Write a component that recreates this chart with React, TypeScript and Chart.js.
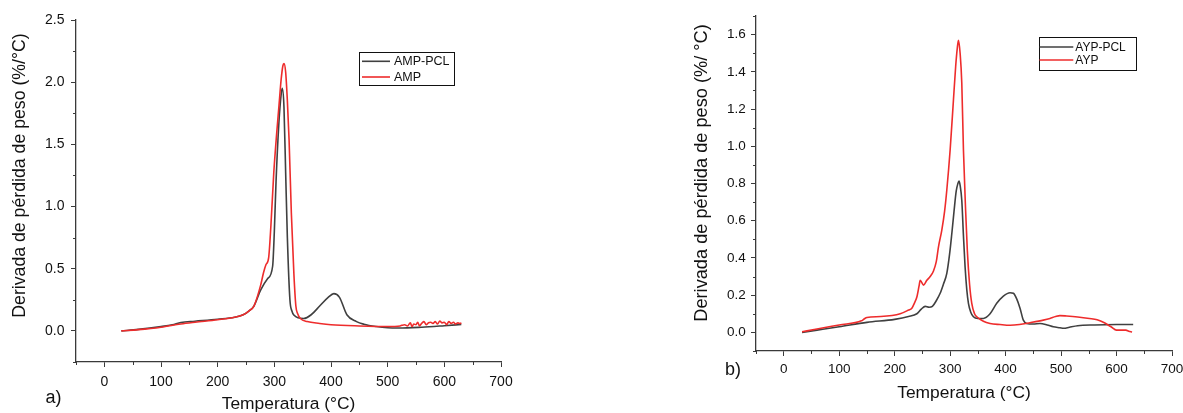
import React, { useEffect, useRef } from "react";
import { Chart, registerables } from "chart.js";

Chart.register(...registerables);

const FONT = "'Liberation Sans', Arial, Helvetica, sans-serif";
const GREY = "#404040";
const RED = "#ee2c2c";
const AXIS = "#3a3a3a";

// ---------- shared axis ticks ----------
const xTicks = [0, 100, 200, 300, 400, 500, 600, 700];
const xMinor = [-50, 50, 150, 250, 350, 450, 550, 650];

// ---------- panel a) ----------
const yTicksA = [0, 0.5, 1.0, 1.5, 2.0, 2.5];
const yMinorA = [-0.25, 0.25, 0.75, 1.25, 1.75, 2.25];

const ampPclT = [30, 60, 100, 120, 135, 160, 200, 230, 245, 255, 264, 276, 288, 297, 300, 303, 308, 312, 314, 317, 320, 323, 327.5, 331, 335, 342, 352, 365, 380, 395, 405, 415, 428, 445, 458, 480, 500, 520, 560, 600, 630];
const ampPclV = [0, 0.012, 0.035, 0.05, 0.068, 0.078, 0.094, 0.11, 0.13, 0.16, 0.2, 0.33, 0.42, 0.52, 0.8, 1.2, 1.67, 1.9, 1.95, 1.8, 1.27, 0.75, 0.25, 0.16, 0.125, 0.105, 0.1, 0.13, 0.2, 0.27, 0.3, 0.27, 0.13, 0.075, 0.054, 0.035, 0.025, 0.023, 0.03, 0.042, 0.052];

const ampT = [30, 60, 100, 135, 160, 200, 230, 245, 255, 264, 276, 281, 285, 290, 294, 299, 304, 308, 312, 315, 317, 320, 323, 326, 330, 334.5, 338, 341, 346, 358, 380, 400, 450, 500, 522, 525, 530, 535, 540, 543, 546, 550, 553, 556, 560, 564, 568, 572, 576, 580, 584, 588, 592, 596, 600, 604, 608, 612, 616, 620, 624, 628, 630];
const ampV = [0, 0.01, 0.03, 0.056, 0.07, 0.09, 0.11, 0.13, 0.16, 0.2, 0.37, 0.47, 0.53, 0.59, 0.85, 1.27, 1.58, 1.8, 2.02, 2.13, 2.15, 2.08, 1.85, 1.54, 0.95, 0.46, 0.2, 0.14, 0.1, 0.075, 0.06, 0.05, 0.04, 0.035, 0.04, 0.045, 0.05, 0.04, 0.065, 0.035, 0.055, 0.05, 0.07, 0.04, 0.06, 0.075, 0.05, 0.065, 0.07, 0.06, 0.075, 0.055, 0.08, 0.065, 0.07, 0.05, 0.075, 0.06, 0.07, 0.055, 0.065, 0.06, 0.065];

// ---------- panel b) ----------
const yTicksB = [0, 0.2, 0.4, 0.6, 0.8, 1.0, 1.2, 1.4, 1.6];
const yMinorB = [-0.1, 0.1, 0.3, 0.5, 0.7, 0.9, 1.1, 1.3, 1.5, 1.7];

const aypPclT = [33, 60, 100, 150, 200, 225, 240, 248, 255, 262, 268, 275, 282, 288, 294, 299, 303, 307, 311, 314, 316, 318, 321, 324, 327, 330, 333, 337, 342, 350, 360, 372, 384, 396, 408, 414, 420, 426, 432, 438, 450, 462, 475, 486, 498, 505, 515, 530, 560, 600, 630];
const aypPclV = [0, 0.012, 0.03, 0.054, 0.07, 0.085, 0.1, 0.125, 0.14, 0.135, 0.14, 0.17, 0.21, 0.26, 0.317, 0.42, 0.53, 0.65, 0.76, 0.8, 0.813, 0.79, 0.71, 0.52, 0.35, 0.23, 0.156, 0.11, 0.084, 0.075, 0.075, 0.1, 0.156, 0.195, 0.213, 0.21, 0.18, 0.13, 0.066, 0.048, 0.045, 0.048, 0.04, 0.03, 0.025, 0.022, 0.028, 0.036, 0.04, 0.042, 0.042];

const aypT = [33, 60, 100, 140, 145, 150, 175, 210, 225, 231, 236, 240, 244, 246, 248.5, 252, 258, 264, 270, 275, 279, 285, 290, 294, 300, 306, 310, 313, 315, 318, 321, 324, 328, 331, 335, 339, 344, 348, 360, 372, 390, 408, 425, 444, 468, 480, 490, 498, 510, 530, 551, 565, 579, 590, 600, 610, 617, 622, 628];
const aypV = [0.003, 0.018, 0.04, 0.062, 0.072, 0.08, 0.085, 0.1, 0.12, 0.13, 0.16, 0.19, 0.25, 0.28, 0.27, 0.254, 0.28, 0.3, 0.33, 0.38, 0.46, 0.55, 0.65, 0.765, 0.98, 1.25, 1.43, 1.53, 1.57, 1.5, 1.34, 0.98, 0.65, 0.44, 0.26, 0.156, 0.1, 0.084, 0.06, 0.048, 0.042, 0.038, 0.042, 0.052, 0.066, 0.075, 0.085, 0.09, 0.088, 0.083, 0.075, 0.068, 0.05, 0.03, 0.012, 0.012, 0.012, 0.006, 0.002];

const toPoints = (t: number[], v: number[]) => t.map((x, i) => ({ x, y: v[i] }));

type PanelCfg = {
  series: { label: string; color: string; t: number[]; v: number[] }[];
  yTicks: number[];
  yMinor: number[];
  yMin: number;
  yMax: number;
  yTitle: string;
  yTitleSize: number;
  yTitlePos: [number, number];
  xTitlePad: number;
  xAxisHeight: number;
  padTop: number;
  padRight: number;
  tickSize: number;
  xTickPad: number;
  yTickPad: number;
  legend: { box: [number, number, number, number]; rows: number[]; lineX: [number, number]; textX: number; size: number };
  panelLabel: { text: string; x: number; y: number };
};

const decorPlugin = {
  id: "decor",
  afterDraw(chart: any, _args: any, opts: any) {
    const { ctx, chartArea } = chart;
    const xs = chart.scales.x;
    const ys = chart.scales.y;
    ctx.save();
    // minor ticks
    ctx.strokeStyle = AXIS;
    ctx.lineWidth = 1;
    for (const v of opts.xMinor) {
      const px = Math.round(xs.getPixelForValue(v)) + 0.5;
      ctx.beginPath();
      ctx.moveTo(px, chartArea.bottom);
      ctx.lineTo(px, chartArea.bottom + 3);
      ctx.stroke();
    }
    for (const v of opts.yMinor) {
      const py = Math.round(ys.getPixelForValue(v)) + 0.5;
      ctx.beginPath();
      ctx.moveTo(chartArea.left, py);
      ctx.lineTo(chartArea.left - 3, py);
      ctx.stroke();
    }
    // y title
    ctx.fillStyle = "#111";
    ctx.font = `${opts.yTitleSize}px ${FONT}`;
    ctx.textAlign = "center";
    ctx.textBaseline = "middle";
    ctx.translate(opts.yTitlePos[0], opts.yTitlePos[1]);
    ctx.rotate(-Math.PI / 2);
    ctx.fillText(opts.yTitle, 0, 0);
    ctx.setTransform(1, 0, 0, 1, 0, 0);
    // panel label
    ctx.textAlign = "left";
    ctx.textBaseline = "alphabetic";
    ctx.font = `18px ${FONT}`;
    ctx.fillText(opts.panelLabel.text, opts.panelLabel.x, opts.panelLabel.y);
    // legend
    const lg = opts.legend;
    const [bx1, by1, bx2, by2] = lg.box;
    ctx.fillStyle = "#fff";
    ctx.fillRect(bx1, by1, bx2 - bx1, by2 - by1);
    ctx.strokeStyle = "#111";
    ctx.lineWidth = 1;
    ctx.strokeRect(Math.round(bx1) + 0.5, Math.round(by1) + 0.5, Math.round(bx2 - bx1), Math.round(by2 - by1));
    chart.data.datasets.forEach((ds: any, i: number) => {
      const y = lg.rows[i];
      ctx.strokeStyle = ds.borderColor;
      ctx.lineWidth = 1.6;
      ctx.beginPath();
      ctx.moveTo(lg.lineX[0], y);
      ctx.lineTo(lg.lineX[1], y);
      ctx.stroke();
      ctx.fillStyle = "#111";
      ctx.font = `${lg.size}px ${FONT}`;
      ctx.textAlign = "left";
      ctx.textBaseline = "middle";
      ctx.fillText(ds.label, lg.textX, y + 0.5);
    });
    ctx.restore();
  },
};

function buildConfig(c: PanelCfg): any {
  return {
    type: "line",
    data: {
      datasets: c.series.map((s, i) => ({
        label: s.label,
        data: toPoints(s.t, s.v),
        borderColor: s.color,
        backgroundColor: s.color,
        borderWidth: 1.6,
        pointRadius: 0,
        fill: false,
        cubicInterpolationMode: "monotone",
        order: c.series.length - i,
      })),
    },
    options: {
      animation: false,
      responsive: false,
      maintainAspectRatio: false,
      layout: { padding: { left: 0, right: c.padRight, top: c.padTop, bottom: 0 } },
      plugins: {
        legend: { display: false },
        tooltip: { enabled: false },
        decor: {
          xMinor,
          yMinor: c.yMinor,
          yTitle: c.yTitle,
          yTitleSize: c.yTitleSize,
          yTitlePos: c.yTitlePos,
          legend: c.legend,
          panelLabel: c.panelLabel,
        },
      },
      scales: {
        x: {
          type: "linear",
          min: -50,
          max: 700,
          afterBuildTicks: (s: any) => {
            s.ticks = xTicks.map((v) => ({ value: v }));
          },
          afterFit: (s: any) => {
            s.height = c.xAxisHeight;
          },
          ticks: {
            color: "#111",
            font: { family: FONT, size: c.tickSize },
            padding: c.xTickPad,
            maxRotation: 0,
            autoSkip: false,
            callback: (v: any) => String(v),
          },
          grid: { drawOnChartArea: false, drawTicks: true, tickLength: 5, color: AXIS, lineWidth: 1 },
          border: { display: true, color: AXIS, width: 1.3 },
          title: {
            display: true,
            text: "Temperatura (°C)",
            color: "#111",
            font: { family: FONT, size: 17.4, lineHeight: 1 },
            padding: { top: 0, bottom: c.xTitlePad },
          },
        },
        y: {
          type: "linear",
          min: c.yMin,
          max: c.yMax,
          afterBuildTicks: (s: any) => {
            s.ticks = c.yTicks.map((v) => ({ value: v }));
          },
          afterFit: (s: any) => {
            s.width = 76;
          },
          ticks: {
            color: "#111",
            font: { family: FONT, size: c.tickSize },
            padding: c.yTickPad,
            autoSkip: false,
            callback: (v: any) => Number(v).toFixed(1),
          },
          grid: { drawOnChartArea: false, drawTicks: true, tickLength: 5, color: AXIS, lineWidth: 1 },
          border: { display: true, color: AXIS, width: 1.3 },
        },
      },
    },
    plugins: [decorPlugin],
  };
}

const panelA: PanelCfg = {
  series: [
    { label: "AMP-PCL", color: GREY, t: ampPclT, v: ampPclV },
    { label: "AMP", color: RED, t: ampT, v: ampV },
  ],
  yTicks: yTicksA,
  yMinor: yMinorA,
  yMin: -0.25,
  yMax: 2.5,
  yTitle: "Derivada de pérdida de peso (%/°C)",
  yTitleSize: 17.7,
  yTitlePos: [20.5, 175.5],
  xTitlePad: 0,
  xAxisHeight: 51,
  padTop: 20,
  padRight: 59,
  tickSize: 14,
  xTickPad: 7,
  yTickPad: 6.5,
  legend: { box: [359, 52.3, 454.3, 85.3], rows: [61.3, 77], lineX: [362, 390], textX: 394, size: 12.5 },
  panelLabel: { text: "a)", x: 45.5, y: 403 },
};

const panelB: PanelCfg = {
  series: [
    { label: "AYP-PCL", color: GREY, t: aypPclT, v: aypPclV },
    { label: "AYP", color: RED, t: aypT, v: aypV },
  ],
  yTicks: yTicksB,
  yMinor: yMinorB,
  yMin: -0.1,
  yMax: 1.7,
  yTitle: "Derivada de pérdida de peso (%/ °C)",
  yTitleSize: 18.2,
  yTitlePos: [22, 173],
  xTitlePad: 11,
  xAxisHeight: 62,
  padTop: 16,
  padRight: 28,
  tickSize: 13.5,
  xTickPad: 5.5,
  yTickPad: 5.3,
  legend: { box: [358.7, 36.7, 456, 69.3], rows: [47, 60], lineX: [359.5, 393.3], textX: 395.3, size: 12 },
  panelLabel: { text: "b)", x: 45, y: 375 },
};

function Panel({ cfg, left, width }: { cfg: PanelCfg; left: number; width: number }) {
  const ref = useRef<HTMLCanvasElement>(null);
  useEffect(() => {
    const chart = new Chart(ref.current as HTMLCanvasElement, buildConfig(cfg));
    return () => chart.destroy();
  }, [cfg]);
  return (
    <canvas
      ref={ref}
      width={width}
      height={413}
      style={{ position: "absolute", left, top: 0, width, height: 413, display: "block" }}
    />
  );
}

export default function App() {
  return (
    <div
      style={{
        position: "fixed",
        left: 0,
        top: 0,
        width: 1183,
        height: 413,
        overflow: "hidden",
        background: "#fff",
      }}
    >
      <Panel cfg={panelA} left={0} width={560} />
      <Panel cfg={panelB} left={680} width={520} />
    </div>
  );
}
